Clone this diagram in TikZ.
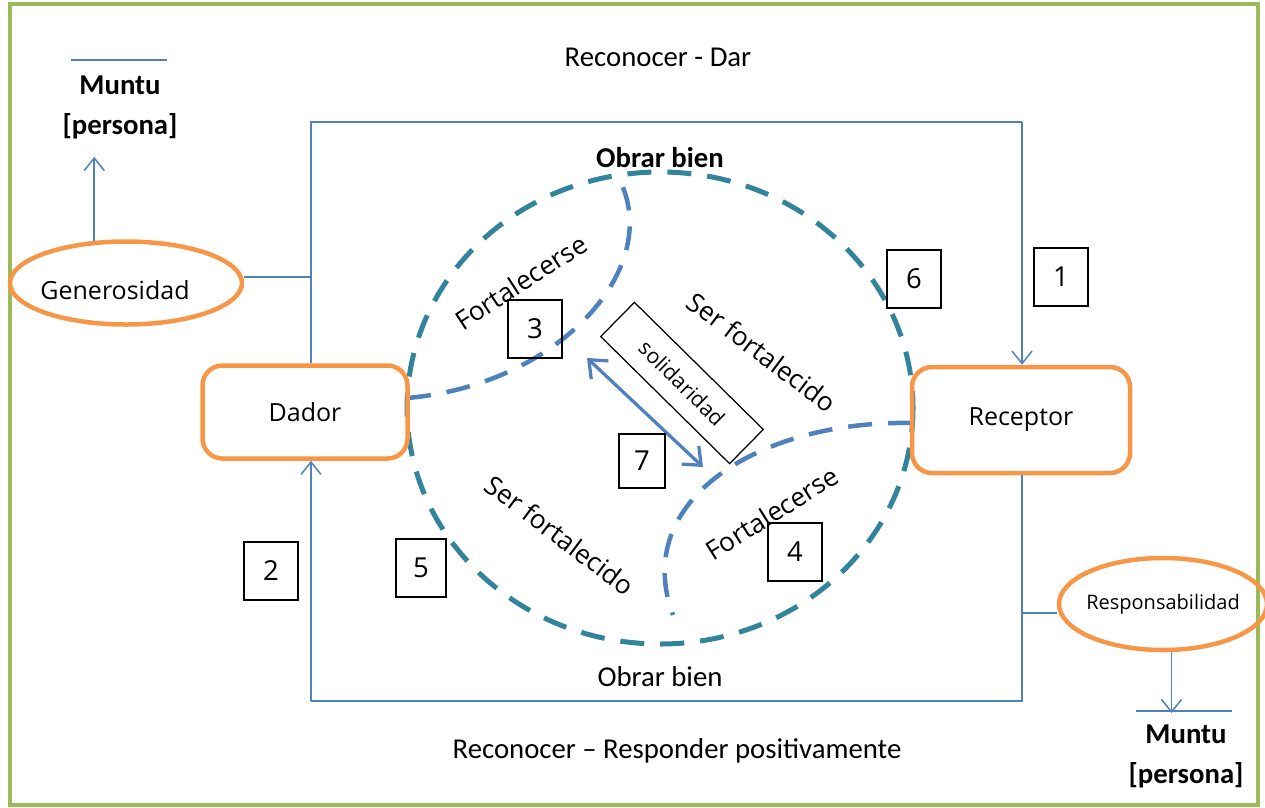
\documentclass[tikz,border=0pt]{standalone}
\usepackage{fontspec}
\setmainfont{Carlito}
\newfontfamily\labelfont{Open Sans}
\usetikzlibrary{arrows.meta,shapes.geometric}
\definecolor{linkblue}{HTML}{4F81BD}
\definecolor{ringteal}{HTML}{31849B}
\definecolor{boxorange}{HTML}{F79646}
\definecolor{framegreen}{HTML}{9BBB59}

\begin{document}
\begin{tikzpicture}[x=0.4pt,y=-0.4pt]
\tikzset{
  rolebox/.style={rectangle,rounded corners=8pt,draw=boxorange,line width=1.8pt,font=\labelfont\fontsize{10}{12}\selectfont},
  virtue/.style={ellipse,draw=boxorange,line width=1.8pt,inner sep=0pt},
  numbox/.style={rectangle,draw,line width=0.5pt,minimum width=21.6pt,minimum height=23.2pt,inner sep=0pt,font=\labelfont\fontsize{11}{13}\selectfont},
  zone/.style={font=\labelfont\fontsize{10.5}{12}\selectfont,inner sep=0pt},
  caption/.style={font=\fontsize{11.5}{14}\selectfont,inner sep=0pt},
  person/.style={font=\bfseries\fontsize{11.5}{14}\selectfont,align=center,inner sep=0pt},
  link/.style={draw=linkblue,line width=0.6pt},
  directed/.style={link,-{Straight Barb[length=5pt,width=8pt]}},
  ring/.style={draw=ringteal,line width=2pt,dash pattern=on 9.6pt off 6.4pt},
  split/.style={draw=linkblue,line width=1.8pt,dash pattern=on 9.6pt off 6.4pt},
  mutual/.style={draw=linkblue,line width=1.3pt,{Straight Barb[length=6pt,width=10pt]}-{Straight Barb[length=6pt,width=10pt]}}
}
\useasboundingbox (0,0) rectangle (1265,807);
\draw[framegreen,line width=1.6pt] (10,4) rectangle (1258,805);

\draw[ring] (660,408) ellipse [x radius=253,y radius=236];
\draw[split] (407,398) .. controls (560,385) and (668,265) .. (617,175);
\draw[split] (912,423) .. controls (760,420) and (630,500) .. (673,615);

\node[rolebox,minimum width=82pt,minimum height=37.2pt] (n_dador) at (305,412) {Dador};
\node[rolebox,minimum width=87.2pt,minimum height=42.4pt] (n_rec) at (1021,420) {Receptor};
\node[virtue,minimum width=92.8pt,minimum height=33.2pt,
  label={[font=\labelfont\fontsize{10}{12}\selectfont,xshift=-4.4pt,yshift=-2.8pt]center:Generosidad}] (n_gen) at (126,283) {};
\node[virtue,minimum width=83.2pt,minimum height=36.8pt,
  label={[font=\labelfont\fontsize{8}{10}\selectfont]center:Responsabilidad}] (n_resp) at (1163,604) {};

\node[person] (n_muntu_a) at (120,107) {Muntu\\[2pt][persona]};
\node[person] (n_muntu_b) at (1186,756) {Muntu\\[2pt][persona]};
\draw[link,line width=1pt] (71,60) -- (167,60);
\draw[link,line width=1pt] (1136,711) -- (1232,711);

\node[caption] (n_give) at (658,57) {Reconocer - Dar};
\node[caption] (n_good_top) at (660,158) {\bfseries Obrar bien};
\node[caption] (n_good_bot) at (660,677) {Obrar bien};
\node[caption] (n_answer) at (677,751) {Reconocer – Responder positivamente};

\node[zone,rotate=33] (n_fort_a) at (521,282) {Fortalecerse};
\node[zone,rotate=-37] (n_ser_a) at (762,352) {Ser fortalecido};
\node[zone,rotate=32] (n_fort_b) at (772,513) {Fortalecerse};
\node[zone,rotate=-37] (n_ser_b) at (560,535) {Ser fortalecido};
\node[draw,line width=0.5pt,minimum width=72.4pt,minimum height=19.2pt,rotate=-44.6,
  font=\labelfont\fontsize{8.5}{10}\selectfont] (n_sol) at (682,383) {solidaridad};
\draw[mutual] (587,358) -- (703,467);

\node[numbox] (n_one) at (1061,277) {1};
\node[numbox] (n_two) at (271,571) {2};
\node[numbox] (n_three) at (535,329) {3};
\node[numbox] (n_four) at (795,552) {4};
\node[numbox,minimum width=20pt] (n_five) at (421,568) {5};
\node[numbox] (n_six) at (914,279) {6};
\node[numbox,minimum width=18.4pt,minimum height=21.6pt] (n_seven) at (642,461) {7};

\coordinate (c_tl) at (311,122);
\coordinate (c_tr) at (1022,122);
\coordinate (c_bl) at (311,701);
\coordinate (c_br) at (1022,701);
\coordinate (c_gen) at (311,277);
\coordinate (c_resp) at (1022,613);
\draw[link] (c_tl |- n_dador.north) -- (c_tl) -- (c_tr);
\draw[directed] (c_tr) -- (c_tr |- n_rec.north);
\draw[link] (c_br |- n_rec.south) -- (c_br) -- (c_bl);
\draw[directed] (c_bl) -- (c_bl |- n_dador.south);
\draw[link] (n_gen.east |- c_gen) -- (c_gen);
\draw[link] (c_resp) -- (c_resp -| n_resp.west);
\draw[directed] (n_gen.127) -- ++(0,-84);
\draw[directed] (n_resp.-80) -- ++(0,61);
\end{tikzpicture}
\end{document}
